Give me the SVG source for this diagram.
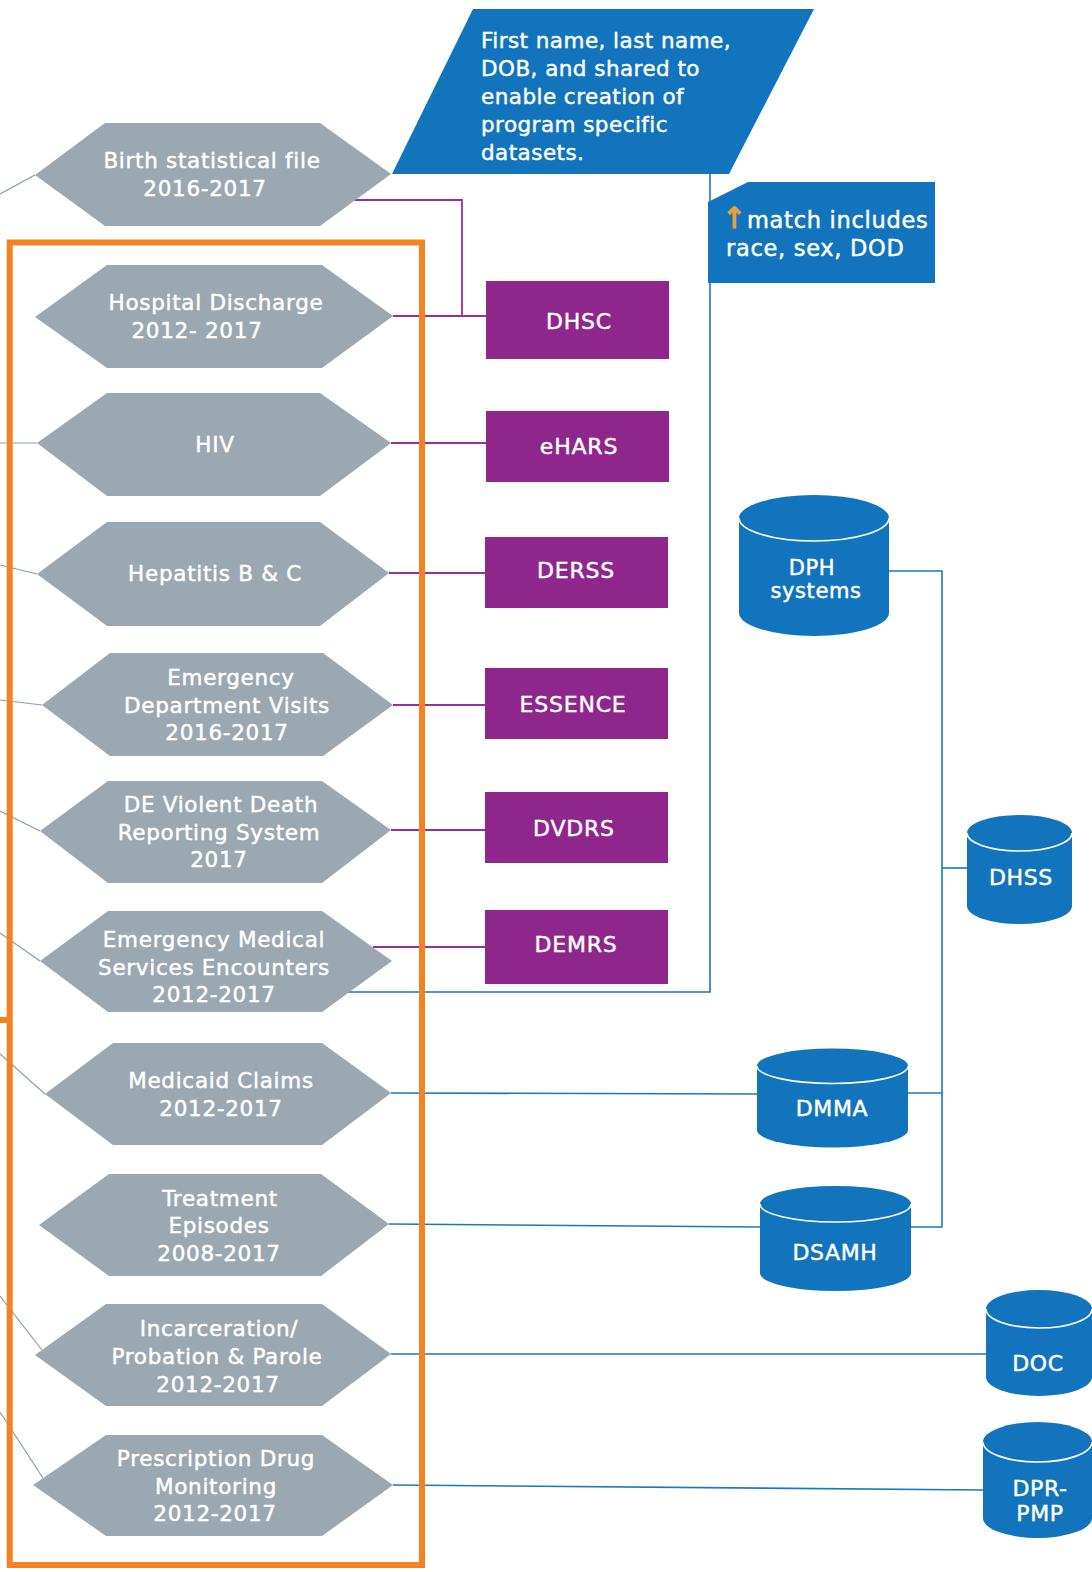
<svg xmlns="http://www.w3.org/2000/svg" width="1092" height="1572" viewBox="0 0 1092 1572">
<defs>
<style>
.hex{fill:#9BA8B1}
.ht{font-family:"DejaVu Sans","Liberation Sans",sans-serif;font-size:21.5px;fill:#fff;stroke:#fff;stroke-width:0.45px;text-anchor:middle;letter-spacing:0.7px}
.pbox{fill:#8E268B}
.pt{font-family:"DejaVu Sans","Liberation Sans",sans-serif;font-size:22px;fill:#fff;stroke:#fff;stroke-width:0.45px;text-anchor:middle;letter-spacing:0.8px}
.cyl{fill:#1274BC}
.rim{fill:none;stroke:#fff;stroke-width:1.6}
.ct{font-family:"DejaVu Sans","Liberation Sans",sans-serif;font-size:22px;fill:#fff;stroke:#fff;stroke-width:0.45px;text-anchor:middle;letter-spacing:0.6px}
.bt{font-family:"DejaVu Sans","Liberation Sans",sans-serif;font-size:21.5px;fill:#fff;stroke:#fff;stroke-width:0.45px;letter-spacing:0.45px}
.mt{font-family:"DejaVu Sans","Liberation Sans",sans-serif;font-size:22.5px;fill:#fff;stroke:#fff;stroke-width:0.45px;letter-spacing:0.7px}
.gl{fill:none;stroke:#8C9CA8;stroke-width:1.2}
.pl{fill:none;stroke:#9B2E98;stroke-width:1.8}
.bl{fill:none;stroke:#1A78C2;stroke-width:1.6}
</style>
</defs>
<rect width="1092" height="1572" fill="#fff"/>

<g id="connectors">
<path class="gl" d="M0 194 L35 175"/>
<path class="gl" d="M0 443 L37 443"/>
<path class="gl" d="M0 565 L37 574"/>
<path class="gl" d="M0 700 L42 705"/>
<path class="gl" d="M0 811 L40 831"/>
<path class="gl" d="M0 933 L40 961"/>
<path class="gl" d="M0 1054 L45 1094"/>
<path class="gl" d="M0 1296 L42 1350"/>
<path class="gl" d="M0 1412 L43 1478"/>
<path class="pl" d="M353 200 H462 V316"/>
<path class="pl" d="M393 316 H486"/>
<path class="pl" d="M391 443 H486"/>
<path class="pl" d="M389 573 H485"/>
<path class="pl" d="M393 705 H485"/>
<path class="pl" d="M391 830 H485"/>
<path class="pl" d="M373 947 H485"/>
<path class="bl" d="M348 992 H710 V174"/>
<path class="bl" d="M391 1093 L757 1094"/>
<path class="bl" d="M389 1224 L760 1227"/>
<path class="bl" d="M391 1354 L986 1354"/>
<path class="bl" d="M393 1485 L983 1490"/>
<path class="bl" d="M889 571 H942 V1227 H911"/>
<path class="bl" d="M942 868 H967"/>
<path class="bl" d="M908 1093 H942"/>
</g>

<g id="parallelogram">
<polygon points="473,9 814,9 729,174 392,174" fill="#1274BC"/>
<text class="bt" x="481" y="48">First name, last name,</text>
<text class="bt" x="481" y="76">DOB, and shared to</text>
<text class="bt" x="481" y="104">enable creation of</text>
<text class="bt" x="481" y="132">program specific</text>
<text class="bt" x="481" y="160">datasets.</text>
</g>

<g id="match-note">
<polygon points="708,202 748,182 935,182 935,283 708,283" fill="#1274BC"/>
<text class="mt" x="722" y="228"><tspan fill="#E9A23B" stroke="#E9A23B" stroke-width="1.2" font-size="29px">↑</tspan>match includes</text>
<text class="mt" x="726" y="256">race, sex, DOD</text>
</g>

<g id="birth">
<polygon class="hex" points="35,175 105,123 320,123 391,174 320,226 105,226"/>
<text class="ht" x="212" y="168">Birth statistical file</text>
<text class="ht" x="205" y="196">2016-2017</text>
</g>
<g id="hospital">
<polygon class="hex" points="35,317 107,265 322,265 393,316 322,368 107,368"/>
<text class="ht" x="216" y="310">Hospital Discharge</text>
<text class="ht" x="197" y="338">2012- 2017</text>
</g>
<g id="hiv">
<polygon class="hex" points="37,443 107,393 320,393 391,443 320,496 107,496"/>
<text class="ht" x="215" y="452">HIV</text>
</g>
<g id="hepatitis">
<polygon class="hex" points="37,574 107,522 320,522 389,573 320,626 107,626"/>
<text class="ht" x="215" y="581">Hepatitis B &amp; C</text>
</g>
<g id="ed">
<polygon class="hex" points="42,705 110,653 323,653 393,705 323,756 110,756"/>
<text class="ht" x="231" y="685">Emergency</text>
<text class="ht" x="227" y="713">Department Visits</text>
<text class="ht" x="227" y="740">2016-2017</text>
</g>
<g id="dvdrs-hex">
<polygon class="hex" points="40,831 108,781 322,781 391,830 322,883 108,883"/>
<text class="ht" x="221" y="812">DE Violent Death</text>
<text class="ht" x="219" y="840">Reporting System</text>
<text class="ht" x="219" y="867">2017</text>
</g>
<g id="ems">
<polygon class="hex" points="40,961 108,911 322,911 392,961 322,1012 108,1012"/>
<text class="ht" x="214" y="947">Emergency Medical</text>
<text class="ht" x="214" y="975">Services Encounters</text>
<text class="ht" x="214" y="1002">2012-2017</text>
</g>
<g id="medicaid">
<polygon class="hex" points="45,1094 113,1043 322,1043 391,1093 322,1145 113,1145"/>
<text class="ht" x="221" y="1088">Medicaid Claims</text>
<text class="ht" x="221" y="1116">2012-2017</text>
</g>
<g id="treatment">
<polygon class="hex" points="39,1225 109,1174 321,1174 389,1224 321,1276 109,1276"/>
<text class="ht" x="220" y="1206">Treatment</text>
<text class="ht" x="219" y="1233">Episodes</text>
<text class="ht" x="219" y="1261">2008-2017</text>
</g>
<g id="incarceration">
<polygon class="hex" points="35,1355 106,1304 322,1304 391,1354 322,1406 106,1406"/>
<text class="ht" x="219" y="1336">Incarceration/</text>
<text class="ht" x="217" y="1364">Probation &amp; Parole</text>
<text class="ht" x="218" y="1392">2012-2017</text>
</g>
<g id="prescription">
<polygon class="hex" points="33,1485 106,1435 322,1435 393,1485 322,1536 106,1536"/>
<text class="ht" x="216" y="1466">Prescription Drug</text>
<text class="ht" x="216" y="1494">Monitoring</text>
<text class="ht" x="215" y="1521">2012-2017</text>
</g>

<g id="dhsc"><rect class="pbox" x="486" y="281" width="183" height="78"/><text class="pt" x="579" y="329">DHSC</text></g>
<g id="ehars"><rect class="pbox" x="486" y="411" width="183" height="71"/><text class="pt" x="579" y="454">eHARS</text></g>
<g id="derss"><rect class="pbox" x="485" y="537" width="183" height="71"/><text class="pt" x="576" y="578">DERSS</text></g>
<g id="essence"><rect class="pbox" x="485" y="668" width="183" height="71"/><text class="pt" x="573" y="712">ESSENCE</text></g>
<g id="dvdrs"><rect class="pbox" x="485" y="792" width="183" height="71"/><text class="pt" x="574" y="836">DVDRS</text></g>
<g id="demrs"><rect class="pbox" x="485" y="910" width="183" height="74"/><text class="pt" x="576" y="952">DEMRS</text></g>

<g id="dph">
<path class="cyl" d="M739 518 A75 23 0 0 1 889 518 L889 613 A75 23 0 0 1 739 613 Z"/>
<path class="rim" d="M739 518 A75 23 0 0 0 889 518"/>
<text class="ct" x="812" y="575" style="font-size:21px">DPH</text>
<text class="ct" x="816" y="598" style="font-size:21px">systems</text>
</g>
<g id="dhss">
<path class="cyl" d="M967 833 A52.5 18 0 0 1 1072 833 L1072 906 A52.5 18 0 0 1 967 906 Z"/>
<path class="rim" d="M967 833 A52.5 18 0 0 0 1072 833"/>
<text class="ct" x="1021" y="885">DHSS</text>
</g>
<g id="dmma">
<path class="cyl" d="M757 1066 A75.5 17.5 0 0 1 908 1066 L908 1130 A75.5 17.5 0 0 1 757 1130 Z"/>
<path class="rim" d="M757 1066 A75.5 17.5 0 0 0 908 1066"/>
<text class="ct" x="832" y="1116">DMMA</text>
</g>
<g id="dsamh">
<path class="cyl" d="M760 1204 A75.5 18 0 0 1 911 1204 L911 1273 A75.5 18 0 0 1 760 1273 Z"/>
<path class="rim" d="M760 1204 A75.5 18 0 0 0 911 1204"/>
<text class="ct" x="835" y="1260">DSAMH</text>
</g>
<g id="doc">
<path class="cyl" d="M986 1309 A53 19 0 0 1 1092 1309 L1092 1377 A53 19 0 0 1 986 1377 Z"/>
<path class="rim" d="M986 1309 A53 19 0 0 0 1092 1309"/>
<text class="ct" x="1038" y="1371">DOC</text>
</g>
<g id="dprpmp">
<path class="cyl" d="M983 1442 A54.5 20 0 0 1 1092 1442 L1092 1518 A54.5 20 0 0 1 983 1518 Z"/>
<path class="rim" d="M983 1442 A54.5 20 0 0 0 1092 1442"/>
<text class="ct" x="1040" y="1496">DPR-</text>
<text class="ct" x="1040" y="1521">PMP</text>
</g>

<g id="orange-frame">
<rect x="9.7" y="242.5" width="412.3" height="1322.5" fill="none" stroke="#F58220" stroke-width="6"/>
<rect x="0" y="1017" width="8" height="6" fill="#F58220"/>
</g>
</svg>
